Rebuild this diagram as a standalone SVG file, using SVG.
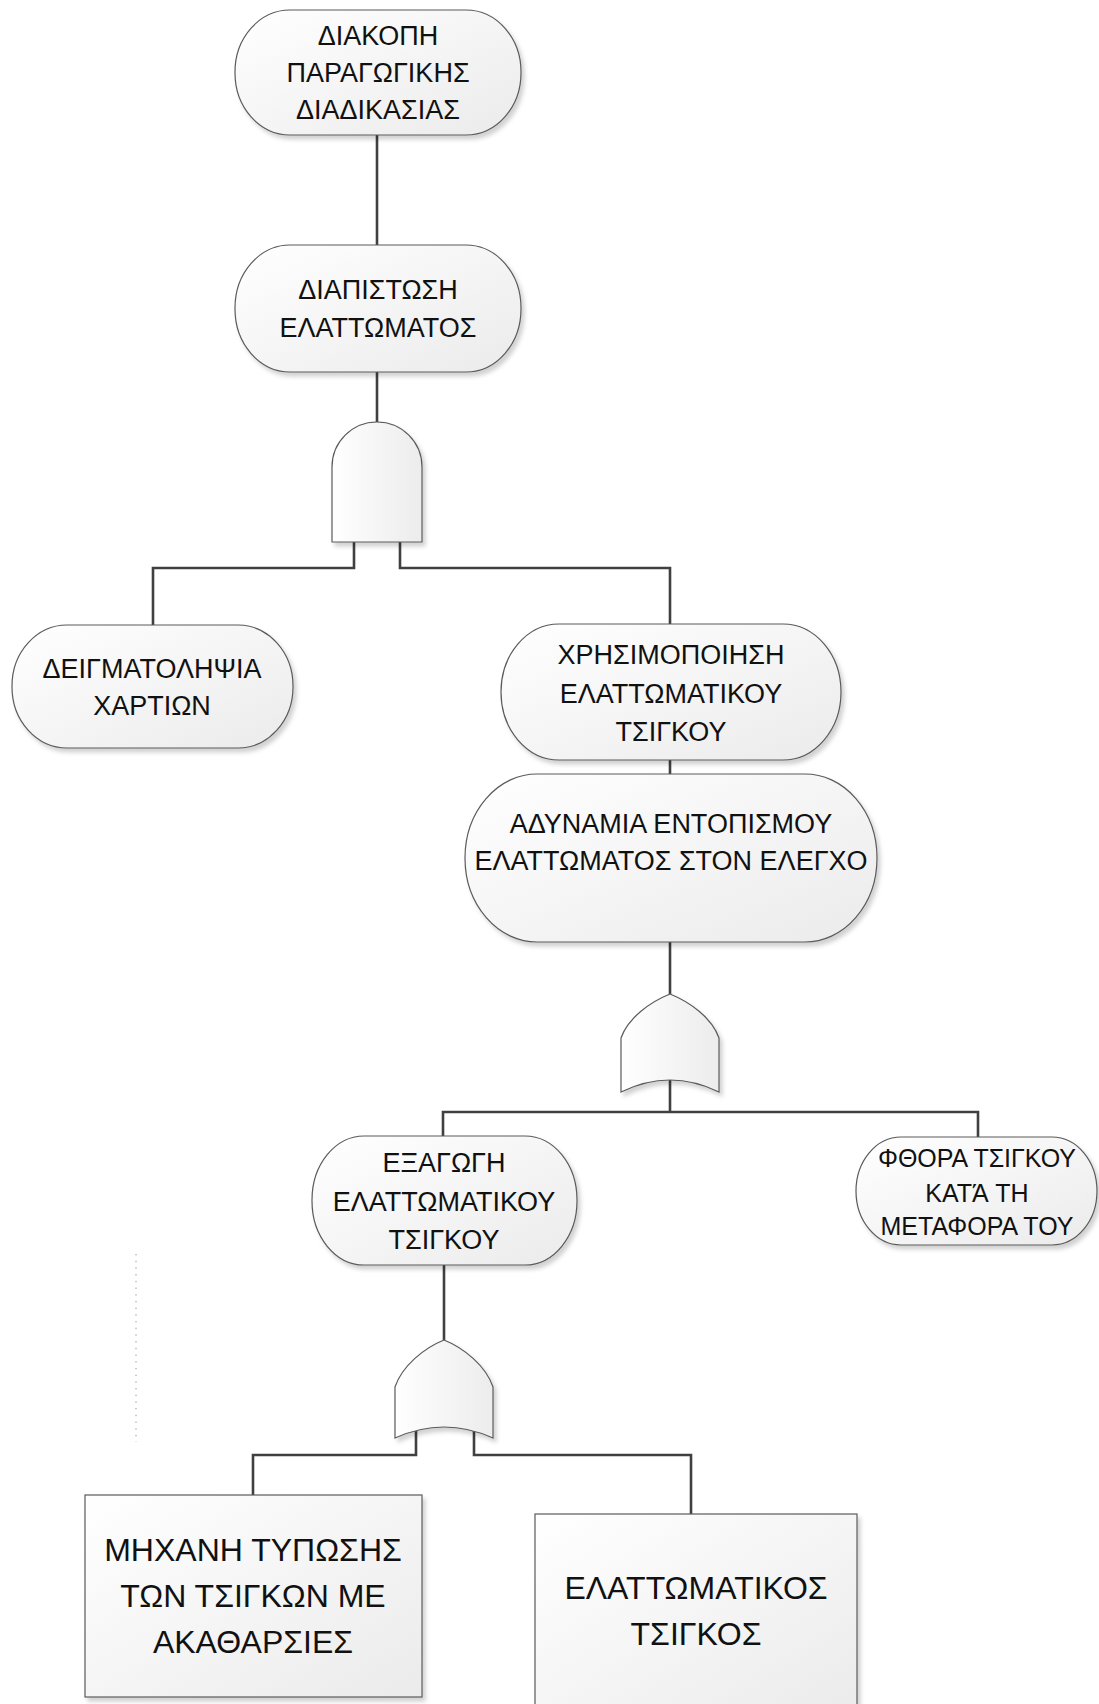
<svg xmlns="http://www.w3.org/2000/svg" width="1099" height="1704" viewBox="0 0 1099 1704">
<defs>
<linearGradient id="g" x1="0" y1="0" x2="1" y2="1">
<stop offset="0" stop-color="#ffffff"/>
<stop offset="1" stop-color="#ebebeb"/>
</linearGradient>
<linearGradient id="gh" x1="0" y1="0" x2="1" y2="0">
<stop offset="0" stop-color="#ffffff"/>
<stop offset="1" stop-color="#ececec"/>
</linearGradient>
<filter id="sh" x="-10%" y="-10%" width="125%" height="125%">
<feDropShadow dx="3" dy="4" stdDeviation="2" flood-color="#000" flood-opacity="0.18"/>
</filter>
</defs>
<style>
.n{fill:url(#g);stroke:#5a5a5a;stroke-width:1.2;filter:url(#sh)}
.gate{fill:url(#gh);stroke:#5a5a5a;stroke-width:1.2;filter:url(#sh)}
.c{fill:none;stroke:#404040;stroke-width:2.6}
.t{font-family:"Liberation Sans",Arial,sans-serif;font-size:27px;fill:#111;text-anchor:middle}
.s{font-size:25px}
.b{font-size:32px}
</style>
<rect width="1099" height="1704" fill="#fff"/>
<g id="connectors">
<path class="c" d="M377,135V245"/>
<path class="c" d="M377,372V423"/>
<path class="c" d="M354,542V568H153V626"/>
<path class="c" d="M400,542V568H670V624"/>
<path class="c" d="M670,760V774"/>
<path class="c" d="M670,942V994"/>
<path class="c" d="M670,1080V1112"/>
<path class="c" d="M443,1137V1112H978V1137"/>
<path class="c" d="M444,1265V1340"/>
<path class="c" d="M416,1431V1455H253V1495"/>
<path class="c" d="M474,1431V1455H691V1514"/>
</g>
<g id="node-diakopi">
<rect class="n" x="235" y="10" width="286" height="125" rx="55" ry="62"/>
<text class="t" x="378" y="45">ΔΙΑΚΟΠΗ</text>
<text class="t" x="378" y="82">ΠΑΡΑΓΩΓΙΚΗΣ</text>
<text class="t" x="378" y="119">ΔΙΑΔΙΚΑΣΙΑΣ</text>
</g>
<g id="node-diapistosi">
<rect class="n" x="235" y="245" width="286" height="127" rx="55" ry="63"/>
<text class="t" x="378" y="299">ΔΙΑΠΙΣΤΩΣΗ</text>
<text class="t" x="378" y="337">ΕΛΑΤΤΩΜΑΤΟΣ</text>
</g>
<g id="gate-and">
<path class="gate" d="M332,542V467A45,45 0 0 1 422,467V542Z"/>
</g>
<g id="node-deigmatolipsia">
<rect class="n" x="12" y="625" width="281" height="123" rx="55" ry="61"/>
<text class="t" x="152" y="678">ΔΕΙΓΜΑΤΟΛΗΨΙΑ</text>
<text class="t" x="152" y="715">ΧΑΡΤΙΩΝ</text>
</g>
<g id="node-xrisimopoiisi">
<rect class="n" x="501" y="624" width="340" height="136" rx="58" ry="68"/>
<text class="t" x="671" y="664">ΧΡΗΣΙΜΟΠΟΙΗΣΗ</text>
<text class="t" x="671" y="703">ΕΛΑΤΤΩΜΑΤΙΚΟΥ</text>
<text class="t" x="671" y="741">ΤΣΙΓΚΟΥ</text>
</g>
<g id="node-adynamia">
<rect class="n" x="465" y="774" width="412" height="168" rx="72" ry="84"/>
<text class="t" x="671" y="833">ΑΔΥΝΑΜΙΑ ΕΝΤΟΠΙΣΜΟΥ</text>
<text class="t" x="671" y="870">ΕΛΑΤΤΩΜΑΤΟΣ ΣΤΟΝ ΕΛΕΓΧΟ</text>
</g>
<g id="gate-or-1">
<path class="gate" d="M670,994C690,1002 712,1018 719,1038V1092Q670,1068 621,1092V1038C628,1018 650,1002 670,994Z"/>
</g>
<g id="node-fthora">
<rect class="n" x="856" y="1137" width="241" height="108" rx="45" ry="54"/>
<text class="t s" x="977" y="1167">ΦΘΟΡΑ ΤΣΙΓΚΟΥ</text>
<text class="t s" x="977" y="1202">ΚΑΤΆ ΤΗ</text>
<text class="t s" x="977" y="1235">ΜΕΤΑΦΟΡΑ ΤΟΥ</text>
</g>
<g id="node-exagogi">
<rect class="n" x="312" y="1136" width="265" height="129" rx="52" ry="64"/>
<text class="t" x="444" y="1172">ΕΞΑΓΩΓΗ</text>
<text class="t" x="444" y="1211">ΕΛΑΤΤΩΜΑΤΙΚΟΥ</text>
<text class="t" x="444" y="1249">ΤΣΙΓΚΟΥ</text>
</g>
<g id="gate-or-2">
<path class="gate" d="M444,1340C464,1348 486,1366 493,1387V1438Q444,1416 395,1438V1387C402,1366 424,1348 444,1340Z"/>
</g>
<g id="dotted-line">
<path d="M136,1254V1442" fill="none" stroke="#9a9a9a" stroke-width="1" stroke-dasharray="1.4,5.3"/>
</g>
<g id="node-mixani">
<rect class="n" x="85" y="1495" width="337" height="202"/>
<text class="t b" x="253" y="1561">ΜΗΧΑΝΗ ΤΥΠΩΣΗΣ</text>
<text class="t b" x="253" y="1607">ΤΩΝ ΤΣΙΓΚΩΝ ΜΕ</text>
<text class="t b" x="253" y="1653">ΑΚΑΘΑΡΣΙΕΣ</text>
</g>
<g id="node-elattomatikos">
<rect class="n" x="535" y="1514" width="322" height="200"/>
<text class="t b" x="696" y="1599">ΕΛΑΤΤΩΜΑΤΙΚΟΣ</text>
<text class="t b" x="696" y="1645">ΤΣΙΓΚΟΣ</text>
</g>
</svg>
